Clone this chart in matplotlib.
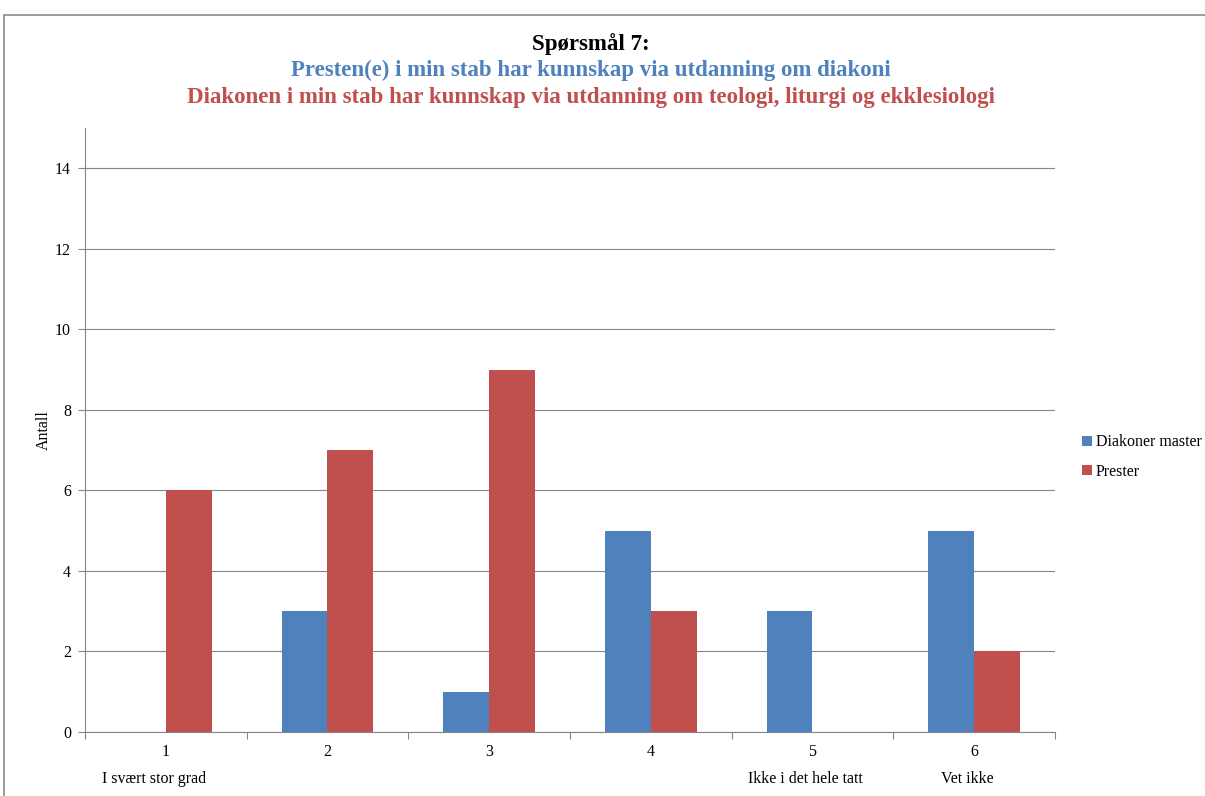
import numpy as np
import matplotlib
matplotlib.use("Agg")
import matplotlib.pyplot as plt
from matplotlib.patches import Rectangle

plt.rcParams['font.family'] = ['Liberation Serif', 'DejaVu Serif']

categories = ["1", "2", "3", "4", "5", "6"]
sub_labels = ["I svært stor grad", "", "", "", "Ikke i det hele tatt", "Vet ikke"]
diakoner = [0, 3, 1, 5, 3, 5]
prester = [6, 7, 9, 3, 0, 2]
series_names = ["Diakoner master", "Prester"]

blue = "#4F81BD"
red = "#C0504D"

fig = plt.figure(figsize=(12.05, 7.96), dpi=100)
ax = fig.add_axes([0.0705, 0.0804, 0.805, 0.7586])

x = np.arange(len(categories))
w = 0.284
ax.bar(x - w/2, diakoner, w, color=blue, label=series_names[0], zorder=3)
ax.bar(x + w/2, prester, w, color=red, label=series_names[1], zorder=3)

ax.set_xlim(-0.5, len(categories) - 0.5)
ax.set_ylim(0, 15)
ax.set_yticks(range(0, 15, 2))
ax.yaxis.grid(True, color="#868686", linewidth=0.8, zorder=0)
ax.tick_params(axis='y', length=5, color="#868686", labelsize=11.5, pad=5)

# category ticks between groups
ax.set_xticks(np.arange(-0.5, len(categories), 1), minor=False)
ax.set_xticklabels([""] * (len(categories) + 1))
ax.tick_params(axis='x', length=5, color="#868686")
offsets = [-0.075, 0, 0, 0, -0.045, -0.04]
for i, (c, s) in enumerate(zip(categories, sub_labels)):
    ax.text(i, -0.3, c, ha='center', va='top', fontsize=11.5)
    if s:
        ax.text(i + offsets[i], -0.98, s, ha='center', va='top', fontsize=11.5)

for sp in ["top", "right"]:
    ax.spines[sp].set_visible(False)
ax.spines["left"].set_color("#868686")
ax.spines["bottom"].set_color("#868686")

ax.set_ylabel("Antall", fontsize=11.5)
ax.yaxis.set_label_coords(-0.034, 0.5)

fig.text(0.49, 0.945, "Spørsmål 7:", ha='center', va='center',
         fontsize=16.5, fontweight='bold', color='black')
fig.text(0.49, 0.912, "Presten(e) i min stab har kunnskap via utdanning om diakoni",
         ha='center', va='center', fontsize=16.5, fontweight='bold', color=blue)
fig.text(0.49, 0.878, "Diakonen i min stab har kunnskap via utdanning om teologi, liturgi og ekklesiologi",
         ha='center', va='center', fontsize=16.5, fontweight='bold', color=red)

leg = ax.legend(loc='center left', bbox_to_anchor=(1.013, 0.455), frameon=False,
                fontsize=11.5, handlelength=0.6, handleheight=0.6,
                handletextpad=0.25, labelspacing=0.85)

# outer chart border (top and left visible)
fig.add_artist(Rectangle((4/1205, -0.01), 1.2, 1 - 15/796 + 0.01,
                         transform=fig.transFigure, fill=False,
                         edgecolor="#8c8c8c", linewidth=1.2))

fig.savefig("out.png", dpi=100)
